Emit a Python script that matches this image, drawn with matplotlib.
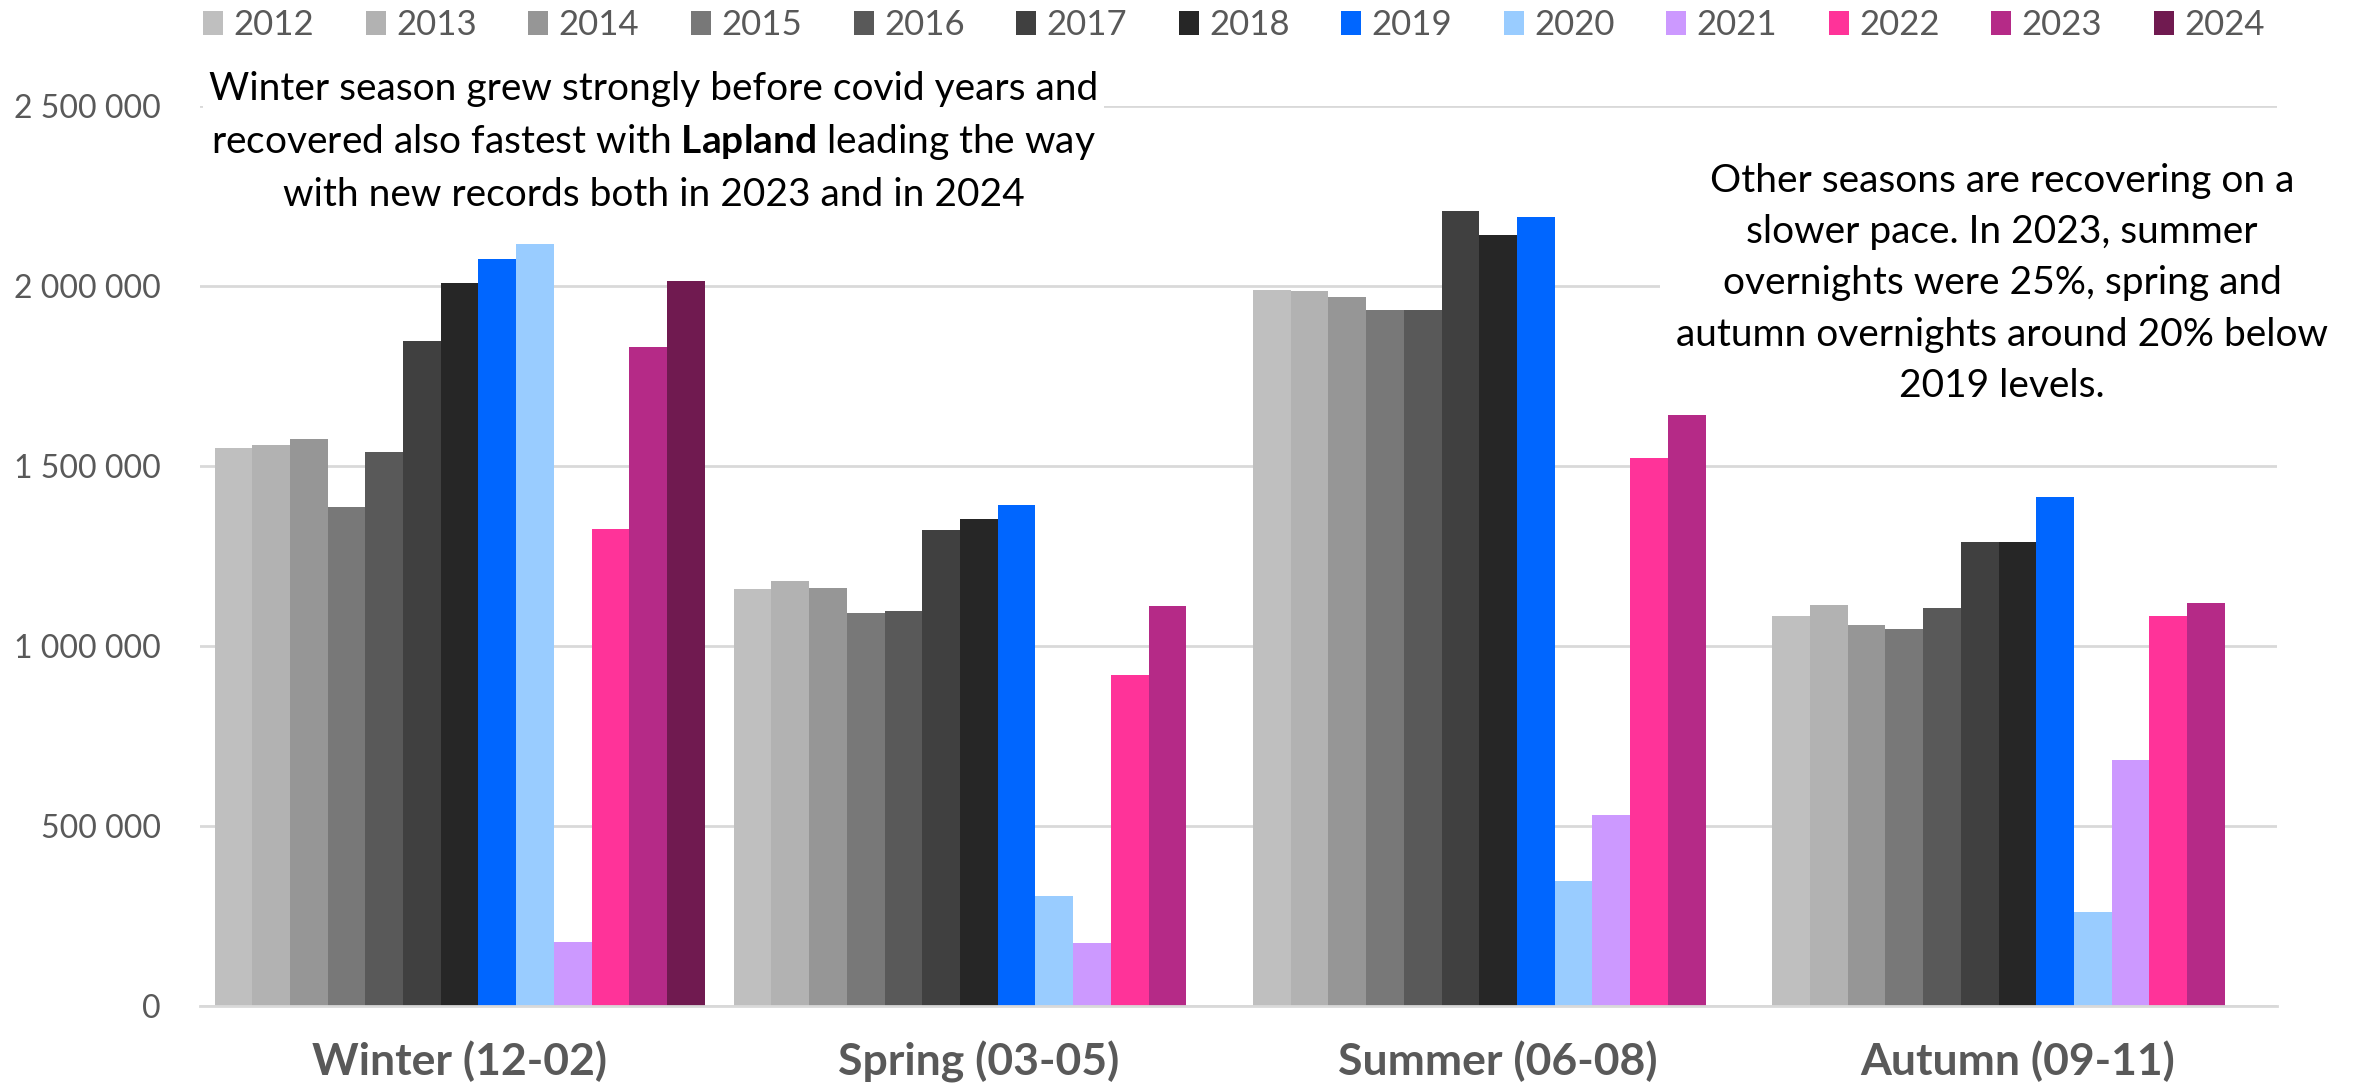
import numpy as np
import matplotlib
matplotlib.use('Agg')
import matplotlib.pyplot as plt
from matplotlib.patches import Patch, Rectangle
from matplotlib.ticker import FuncFormatter

# Overnights by season
seasons = ['Winter (12-02)', 'Spring (03-05)', 'Summer (06-08)', 'Autumn (09-11)']
years = ['2012', '2013', '2014', '2015', '2016', '2017', '2018',
         '2019', '2020', '2021', '2022', '2023', '2024']

winter = [1549000, 1558000, 1575000, 1385000, 1538000, 1845000, 2007000,
          2075000, 2115000, 177000, 1323000, 1830000, 2013000]
spring = [1157000, 1179000, 1161000, 1091000, 1097000, 1321000, 1352000,
          1392000, 305000, 175000, 918000, 1111000, np.nan]
summer = [1989000, 1984000, 1969000, 1932000, 1933000, 2208000, 2141000,
          2190000, 347000, 531000, 1522000, 1652000, np.nan]
autumn = [1084000, 1113000, 1058000, 1047000, 1104000, 1288000, 1288000,
          1412000, 261000, 684000, 1084000, 1120000, np.nan]

colors = ['#BFBFBF', '#B2B2B2', '#969696', '#787878', '#595959', '#404040', '#262626',
          '#0066FF', '#99CCFF', '#CC99FF', '#FF3399', '#B52A87', '#701A50']

note_left = ['Winter season grew strongly before covid years and',
             'recovered also fastest with $\\mathbf{Lapland}$ leading the way',
             'with new records both in 2023 and in 2024']
note_right = ['Other seasons are recovering on a',
              'slower pace. In 2023, summer',
              'overnights were 25%, spring and',
              'autumn overnights around 20% below',
              '2019 levels.']

plt.rcParams['font.family'] = ['Lato', 'DejaVu Sans']
plt.rcParams['mathtext.fontset'] = 'custom'
plt.rcParams['mathtext.rm'] = 'Lato'
plt.rcParams['mathtext.bf'] = 'Lato:bold'

W, H = 2364, 1090
fig = plt.figure(figsize=(W / 100, H / 100), dpi=100)
ax = fig.add_axes([200 / W, 1 - 1006 / H, (2277 - 200) / W, (1006 - 105.5) / H])

data = np.array([winter, spring, summer, autumn])
x = np.arange(len(seasons))
n = len(years)
bw = 0.944 / n
for j, yr in enumerate(years):
    ax.bar(x + (j - (n - 1) / 2) * bw, data[:, j], width=bw, color=colors[j],
           linewidth=0, zorder=2)

ax.set_xlim(-0.5, len(seasons) - 0.5)
ax.set_ylim(0, 2500000)
ax.set_yticks(np.arange(0, 2500001, 500000))
ax.yaxis.set_major_formatter(FuncFormatter(lambda v, p: f'{int(v):,}'.replace(',', ' ')))
ax.set_xticks(x)
ax.set_xticklabels(seasons, fontsize=32, fontweight='bold', color='#595959')
ax.tick_params(axis='x', length=0, pad=25)
ax.tick_params(axis='y', length=0, pad=28, labelsize=23, labelcolor='#595959')
ax.grid(axis='y', color='#D9D9D9', linewidth=2)
ax.set_axisbelow(True)
for s in ['left', 'right', 'top']:
    ax.spines[s].set_visible(False)
ax.spines['bottom'].set_color('#D9D9D9')
ax.spines['bottom'].set_linewidth(2)

# legend along the top
handles = [Patch(facecolor=c, edgecolor='none') for c in colors]
fig.legend(handles, years, loc='center left', bbox_to_anchor=(203 / W, 1 - 25 / H),
           ncol=n, frameon=False, fontsize=25, labelcolor='#595959',
           handlelength=0.58, handleheight=0.7, handletextpad=0.3,
           columnspacing=1.48, borderpad=0, borderaxespad=0)

# white boxes behind the notes
fig.add_artist(Rectangle((203 / W, 1 - 222 / H), (1104 - 203) / W, (222 - 60) / H,
                         transform=fig.transFigure, facecolor='white', edgecolor='none', zorder=3))
fig.add_artist(Rectangle((1660 / W, 1 - 415 / H), (2340 - 1660) / W, (415 - 150) / H,
                         transform=fig.transFigure, facecolor='white', edgecolor='none', zorder=3))

for i, line in enumerate(note_left):
    fig.text(654 / W, 1 - (89 + 53 * i) / H, line, ha='center', va='center',
             fontsize=28, color='black', zorder=4)
for i, line in enumerate(note_right):
    fig.text(2002 / W, 1 - (181 + 51.2 * i) / H, line, ha='center', va='center',
             fontsize=28, color='black', zorder=4)

fig.savefig('out.png', dpi=100)
